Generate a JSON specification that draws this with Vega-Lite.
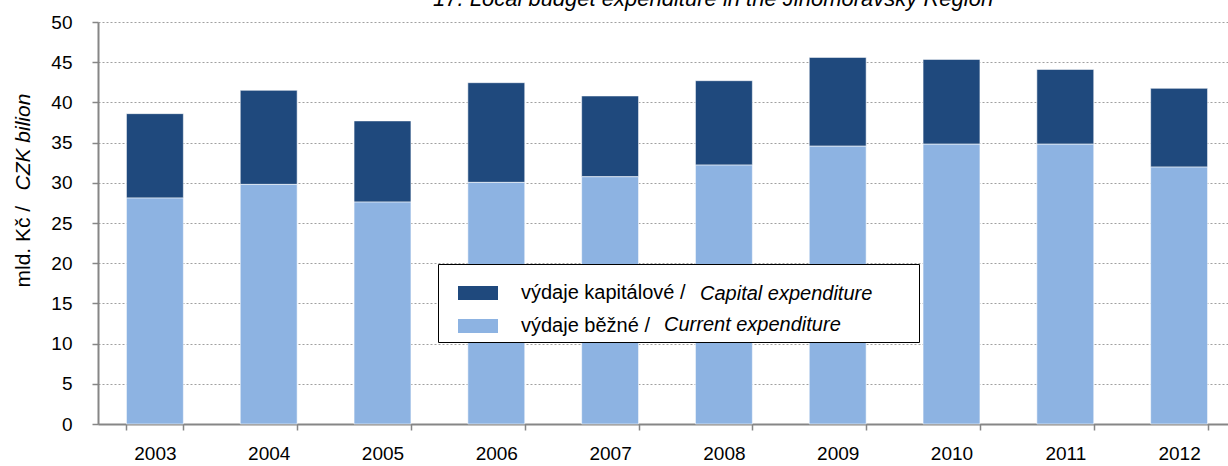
{
  "$schema": "https://vega.github.io/schema/vega-lite/v6.json",
  "width": 1130,
  "height": 402,
  "autosize": {"type": "none"},
  "padding": {"left": 98, "top": 22, "right": 0, "bottom": 42},
  "title": {"text": "17. Local budget expenditure in the Jihomoravský Region", "anchor": "start", "dx": 421, "dy": 29, "offset": 9, "baseline": "bottom", "font": "Liberation Sans", "fontSize": 22, "fontStyle": "italic", "fontWeight": "normal", "color": "#000000"},
  "config": {"view": {"stroke": null}, "font": "Liberation Sans"},
  "data": {"values": [
    {"year": "2003", "type": "výdaje kapitálové", "en": "Capital expenditure", "value": 10.5},
    {"year": "2003", "type": "výdaje běžné", "en": "Current expenditure", "value": 28.1},
    {"year": "2004", "type": "výdaje kapitálové", "en": "Capital expenditure", "value": 11.7},
    {"year": "2004", "type": "výdaje běžné", "en": "Current expenditure", "value": 29.8},
    {"year": "2005", "type": "výdaje kapitálové", "en": "Capital expenditure", "value": 10.1},
    {"year": "2005", "type": "výdaje běžné", "en": "Current expenditure", "value": 27.6},
    {"year": "2006", "type": "výdaje kapitálové", "en": "Capital expenditure", "value": 12.4},
    {"year": "2006", "type": "výdaje běžné", "en": "Current expenditure", "value": 30.05},
    {"year": "2007", "type": "výdaje kapitálové", "en": "Capital expenditure", "value": 10.05},
    {"year": "2007", "type": "výdaje běžné", "en": "Current expenditure", "value": 30.75},
    {"year": "2008", "type": "výdaje kapitálové", "en": "Capital expenditure", "value": 10.5},
    {"year": "2008", "type": "výdaje běžné", "en": "Current expenditure", "value": 32.2},
    {"year": "2009", "type": "výdaje kapitálové", "en": "Capital expenditure", "value": 11.05},
    {"year": "2009", "type": "výdaje běžné", "en": "Current expenditure", "value": 34.55},
    {"year": "2010", "type": "výdaje kapitálové", "en": "Capital expenditure", "value": 10.55},
    {"year": "2010", "type": "výdaje běžné", "en": "Current expenditure", "value": 34.8},
    {"year": "2011", "type": "výdaje kapitálové", "en": "Capital expenditure", "value": 9.3},
    {"year": "2011", "type": "výdaje běžné", "en": "Current expenditure", "value": 34.8},
    {"year": "2012", "type": "výdaje kapitálové", "en": "Capital expenditure", "value": 9.8},
    {"year": "2012", "type": "výdaje běžné", "en": "Current expenditure", "value": 31.95}
  ]},
  "encoding": {
    "x": {
      "field": "year", "type": "ordinal",
      "scale": {"range": [0, 1138], "paddingInner": 0.5, "paddingOuter": 0.25},
      "axis": {"title": null, "labelAngle": 0, "tickBand": "extent", "tickSize": 6, "tickColor": "#868686", "tickWidth": 1.5, "domainColor": "#868686", "domainWidth": 2, "labelFontSize": 19, "labelColor": "#000000", "labelPadding": 14, "grid": false}
    }
  },
  "layer": [
    {
      "transform": [{"filter": "datum.type == 'výdaje kapitálové'"}],
      "mark": {"type": "bar", "opacity": 0},
      "encoding": {
        "y": {
          "field": "value", "type": "quantitative", "stack": null,
          "scale": {"domain": [0, 50]},
          "axis": {"orient": "left", "title": "CZK bilion", "titleFontSize": 21, "titleFontWeight": "normal", "titleFontStyle": "italic", "titleColor": "#000000", "titleAngle": -90, "titleX": -75, "titleY": 168, "titleAlign": "left", "titleBaseline": "middle", "labels": false, "ticks": false, "domain": false, "grid": false}
        },
        "color": {
          "field": "en", "type": "nominal",
          "scale": {"range": ["#ffffff"]},
          "legend": {"orient": "none", "legendX": 340, "legendY": 242, "title": null, "padding": 0, "symbolType": "M-1,-1H15.0333V1.6H-1Z", "symbolSize": 3600, "symbolOffset": 0, "symbolOpacity": 0, "symbolStrokeWidth": 0, "labelFontSize": 20, "labelFontStyle": "italic", "labelColor": "#000000", "labelOffset": 202, "labelLimit": 800, "strokeColor": "#000000", "fillColor": "#ffffff"}
        }
      }
    },
    {
      "mark": {"type": "bar", "stroke": "#ffffff", "strokeWidth": 1, "strokeOpacity": 0.55},
      "encoding": {
        "y": {
          "field": "value", "type": "quantitative", "stack": "zero",
          "scale": {"domain": [0, 50]},
          "axis": {"orient": "left", "title": "mld. Kč /", "titleFontSize": 21, "titleFontWeight": "normal", "titleColor": "#000000", "titleAngle": -90, "titleX": -75, "titleY": 265, "titleAlign": "left", "titleBaseline": "middle", "values": [0, 5, 10, 15, 20, 25, 30, 35, 40, 45, 50], "tickSize": 6, "tickColor": "#868686", "tickWidth": 1.5, "domainColor": "#868686", "domainWidth": 2, "labelFontSize": 19, "labelColor": "#000000", "labelPadding": 20, "grid": true, "gridColor": "#a0a0a0", "gridDash": [2, 2], "gridWidth": 1}
        },
        "order": {"field": "type", "type": "nominal", "sort": "ascending"},
        "color": {
          "field": "type", "type": "nominal",
          "scale": {"domain": ["výdaje kapitálové", "výdaje běžné"], "range": ["#1F497D", "#8DB3E2"]},
          "legend": {"orient": "none", "legendX": 340, "legendY": 244, "title": null, "padding": 7, "symbolOffset": 13, "symbolType": "M-1,-0.35H1V0.35H-1Z", "symbolSize": 1600, "symbolStrokeWidth": 0, "labelFontSize": 20, "labelColor": "#000000", "labelOffset": 23, "rowPadding": 3, "labelLimit": 800, "labelExpr": "datum.label + ' /'"}
        }
      }
    },
    {
      "transform": [{"filter": "datum.type == 'výdaje běžné'"}],
      "mark": {"type": "bar", "opacity": 0},
      "encoding": {
        "y": {
          "field": "value", "type": "quantitative", "stack": null,
          "scale": {"domain": [0, 50]},
          "axis": null
        },
        "color": {
          "field": "en", "type": "nominal",
          "scale": {"range": ["#ffffff"]},
          "legend": {"orient": "none", "legendX": 546, "legendY": 293, "title": null, "padding": 0, "symbolSize": 0, "symbolOpacity": 0, "symbolStrokeWidth": 0, "labelFontSize": 20, "labelFontStyle": "italic", "labelColor": "#000000", "labelOffset": 0, "labelLimit": 800}
        }
      }
    }
  ],
  "resolve": {"scale": {"y": "independent", "color": "independent"}, "axis": {"y": "independent"}, "legend": {"color": "independent"}}
}
